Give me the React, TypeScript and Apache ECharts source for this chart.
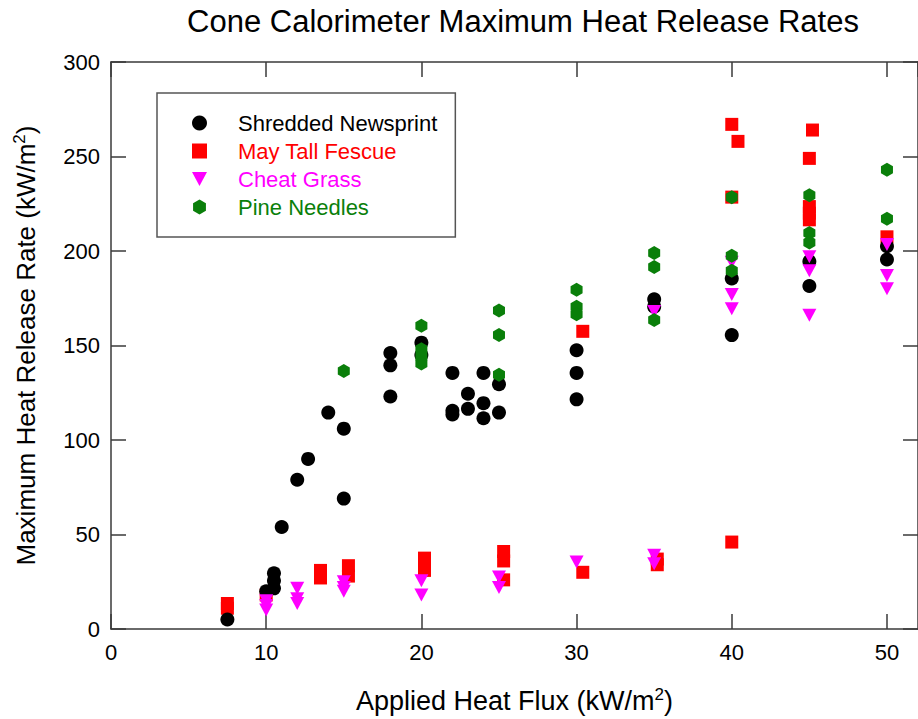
import React, { useEffect, useRef } from "react";
import * as echarts from "echarts";

// ---- data: [applied heat flux (kW/m2), max heat release rate (kW/m2)]
const newsprint: number[][] = [
  [7.5, 5], [10, 20], [10.5, 21.5], [10.5, 25.5], [10.5, 29.5], [11, 54], [12, 79], [12.7, 90],
  [14, 114.5], [15, 106], [15, 69], [18, 146], [18, 139.5], [18, 123], [20, 151.5], [20, 145],
  [22, 135.5], [22, 115.5], [22, 113.5], [23, 124.5], [23, 116.5], [24, 135.5], [24, 119.5],
  [24, 111.5], [25, 129.5], [25, 114.5], [30, 147.5], [30, 135.5], [30, 121.5], [35, 174.5],
  [35, 170.5], [40, 185.5], [40, 155.5], [45, 194.5], [45, 181.5], [50, 202.5], [50, 195.5],
];
const fescue: number[][] = [
  [7.5, 13.5], [7.5, 11], [10, 18], [13.5, 31], [13.5, 27], [15.3, 33.5], [15.3, 28],
  [20.2, 37.5], [20.2, 34], [20.2, 31], [25.3, 41], [25.3, 36], [25.3, 26], [30.4, 30],
  [30.4, 157.5], [35.2, 37], [35.2, 34], [40, 46], [40, 267], [40.4, 258], [40, 228.5],
  [45.2, 264], [45, 249], [45, 223.5], [45, 220], [45, 216.5], [50, 207.5],
];
const cheatGrass: number[][] = [
  [10, 15], [10, 12.5], [10, 10], [12, 21.5], [12, 16], [12, 13.5], [15, 25], [15, 22], [15, 20],
  [20, 25.5], [20, 18], [25, 27.5], [25, 22], [30, 35.5], [35, 39], [35, 34.5], [35, 168],
  [40, 194], [40, 177], [40, 169.5], [45, 197], [45, 189.5], [45, 166], [50, 203.5], [50, 187],
  [50, 180],
];
const pineNeedles: number[][] = [
  [15, 136.5], [20, 160.5], [20, 148], [20, 144], [20, 140.5], [25, 168.5], [25, 155.5],
  [25, 134.5], [30, 179.5], [30, 170.5], [30, 166.5], [35, 199], [35, 191.5], [35, 163.5],
  [40, 228.5], [40, 197.5], [40, 189.5], [45, 229.5], [45, 209.5], [45, 204.5], [50, 243],
  [50, 217],
];

const seriesNames = ["Shredded Newsprint", "May Tall Fescue", "Cheat Grass", "Pine Needles"];
const seriesColors = ["#000000", "#ff0000", "#ff00ff", "#0a7f0a"];

const X_MIN = 0;
const X_MAX = 52;
const X_INTERVAL = 10;
const Y_MIN = 0;
const Y_MAX = 300;
const Y_INTERVAL = 50;

const FONT = "'Liberation Sans', Arial, Helvetica, sans-serif";
const HEX = "path://M6,0 L12,3.5 L12,10.5 L6,14 L0,10.5 L0,3.5 Z";
const TRI_DOWN = "path://M0,0 L14,0 L7,13 Z";

export default function App() {
  const ref = useRef<HTMLDivElement>(null);
  useEffect(() => {
    if (!ref.current) return;
    const chart = echarts.init(ref.current, undefined, { renderer: "svg" });
    const axisLine = { show: true, onZero: false, lineStyle: { color: "#3a3a3a", width: 1.5 } };
    const tick = { show: true, inside: true, length: 15, lineStyle: { color: "#3a3a3a", width: 1.5 } };
    const supRich = {
      sup: { fontSize: 17, fontFamily: FONT, color: "#000", verticalAlign: "top", padding: [0, 0, 12, 0] },
    };
    const mk = (idx: number, data: number[][], symbol: string, size: any, z: number) => ({
      name: seriesNames[idx],
      type: "scatter",
      data,
      symbol,
      symbolSize: size,
      z,
      itemStyle: { color: seriesColors[idx], opacity: 1 },
      emphasis: { disabled: true },
    });
    chart.setOption({
      animation: false,
      graphic: [
        {
          type: "text",
          x: 523,
          y: 21,
          style: {
            text: "Cone Calorimeter Maximum Heat Release Rates",
            font: `31px ${FONT}`,
            fill: "#000",
            textAlign: "center",
            textVerticalAlign: "middle",
          },
        },
      ],
      legend: {
        orient: "vertical",
        left: 157,
        top: 93,
        padding: [19, 18, 19, 35],
        borderColor: "#555",
        borderWidth: 1.5,
        itemWidth: 15,
        itemHeight: 15,
        itemGap: 6,
        textStyle: { fontSize: 22, fontFamily: FONT, lineHeight: 22, padding: [0, 0, 0, 26] },
        data: seriesNames.map((n, i) => ({ name: n, textStyle: { color: seriesColors[i] } })),
      },
      grid: { left: 111, top: 62, width: 812, height: 567, containLabel: false },
      xAxis: [
        {
          type: "value",
          min: X_MIN,
          max: X_MAX,
          interval: X_INTERVAL,
          position: "bottom",
          axisLine,
          axisTick: tick,
          splitLine: { show: false },
          axisLabel: { fontSize: 22, fontFamily: FONT, color: "#000", margin: 12, showMaxLabel: false },
          name: "Applied Heat Flux (kW/m{sup|2})",
          nameLocation: "middle",
          nameGap: 57,
          nameTextStyle: { fontSize: 27, fontFamily: FONT, color: "#000", rich: supRich },
        },
        {
          type: "value",
          min: X_MIN,
          max: X_MAX,
          interval: X_INTERVAL,
          position: "top",
          axisLine,
          axisTick: tick,
          splitLine: { show: false },
          axisLabel: { show: false },
        },
      ],
      yAxis: [
        {
          type: "value",
          min: Y_MIN,
          max: Y_MAX,
          interval: Y_INTERVAL,
          position: "left",
          axisLine,
          axisTick: tick,
          splitLine: { show: false },
          axisLabel: { fontSize: 22, fontFamily: FONT, color: "#000", margin: 11 },
          name: "Maximum Heat Release Rate (kW/m{sup|2})",
          nameLocation: "middle",
          nameGap: 71,
          nameTextStyle: { fontSize: 26, fontFamily: FONT, color: "#000", rich: supRich },
        },
        {
          type: "value",
          min: Y_MIN,
          max: Y_MAX,
          interval: Y_INTERVAL,
          position: "right",
          axisLine,
          axisTick: tick,
          splitLine: { show: false },
          axisLabel: { show: false },
        },
      ],
      series: [
        mk(1, fescue, "rect", 13, 2),
        mk(0, newsprint, "circle", 14, 3),
        mk(2, cheatGrass, TRI_DOWN, [14, 13], 4),
        mk(3, pineNeedles, HEX, [12, 14], 5),
      ],
    });
    return () => chart.dispose();
  }, []);
  return (
    <div
      ref={ref}
      style={{ position: "absolute", left: 0, top: 0, width: 918, height: 719, background: "#fff" }}
    />
  );
}
